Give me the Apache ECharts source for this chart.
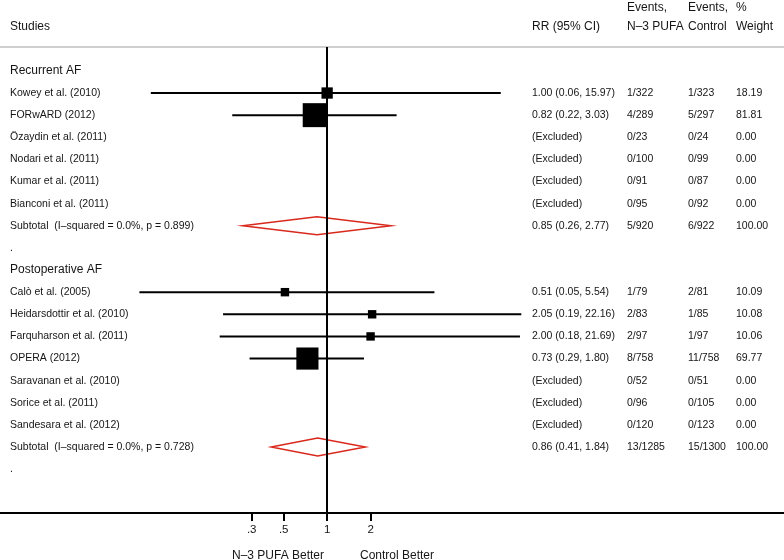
<!DOCTYPE html>
<html>
<head>
<meta charset="utf-8">
<script src="https://cdn.jsdelivr.net/npm/echarts@6/dist/echarts.min.js"></script>
<style>
html, body { margin: 0; padding: 0; background: #fff; }
#chart { width: 784px; height: 560px; }
</style>
</head>
<body>
<div id="chart"></div>
<script>
// rows of the forest plot, top to bottom
var rowLabels = [
    'Recurrent AF',
    'Kowey et al. (2010)',
    'FORwARD (2012)',
    'Özaydin et al. (2011)',
    'Nodari et al. (2011)',
    'Kumar et al. (2011)',
    'Bianconi et al. (2011)',
    'Subtotal  (I\u2013squared = 0.0%, p = 0.899)',
    '.',
    'Postoperative AF',
    'Calò et al. (2005)',
    'Heidarsdottir et al. (2010)',
    'Farquharson et al. (2011)',
    'OPERA (2012)',
    'Saravanan et al. (2010)',
    'Sorice et al. (2011)',
    'Sandesara et al. (2012)',
    'Subtotal  (I\u2013squared = 0.0%, p = 0.728)',
    '.'
];
var rowKinds = ['group', 'study', 'study', 'excl', 'excl', 'excl', 'excl', 'sub', 'blank',
                'group', 'study', 'study', 'study', 'study', 'excl', 'excl', 'excl', 'sub', 'blank'];
var rr     = [null, 1.00, 0.82, null, null, null, null, 0.85, null, null, 0.51, 2.05, 2.00, 0.73, null, null, null, 0.86, null];
var ciLow  = [null, 0.06, 0.22, null, null, null, null, 0.26, null, null, 0.05, 0.19, 0.18, 0.29, null, null, null, 0.41, null];
var ciHigh = [null, 15.97, 3.03, null, null, null, null, 2.77, null, null, 5.54, 22.16, 21.69, 1.80, null, null, null, 1.84, null];
var eventsN3 = ['', '1/322', '4/289', '0/23', '0/100', '0/91', '0/95', '5/920', '',
                '', '1/79', '2/83', '2/97', '8/758', '0/52', '0/96', '0/120', '13/1285', ''];
var eventsControl = ['', '1/323', '5/297', '0/24', '0/99', '0/87', '0/92', '6/922', '',
                     '', '2/81', '1/85', '1/97', '11/758', '0/51', '0/105', '0/123', '15/1300', ''];
var weights = [null, 18.19, 81.81, 0, 0, 0, 0, 100, null, null, 10.09, 10.08, 10.06, 69.77, 0, 0, 0, 100, null];

var tickValues = [0.3, 0.5, 1, 2];
var tickLabels = ['.3', '.5', '1', '2'];

var FONT = '"Liberation Sans", Arial, Helvetica, sans-serif';
var TXT = '#151515';

var ciData = [], boxData = [], diamondData = [], textData = [];
for (var i = 0; i < rowLabels.length; i++) {
    textData.push([0, i]);
    if (rowKinds[i] === 'study') {
        ciData.push([Math.log(ciLow[i]), Math.log(ciHigh[i]), i]);
        boxData.push([Math.log(rr[i]), i, weights[i]]);
    } else if (rowKinds[i] === 'sub') {
        diamondData.push([Math.log(ciLow[i]), Math.log(rr[i]), Math.log(ciHigh[i]), i]);
    }
}

function rrText(i) {
    if (rowKinds[i] === 'excl') return '(Excluded)';
    if (rr[i] == null) return '';
    return rr[i].toFixed(2) + ' (' + ciLow[i].toFixed(2) + ', ' + ciHigh[i].toFixed(2) + ')';
}

function txt(x, y, s, size, align) {
    return {
        type: 'text',
        style: { x: x, y: y, text: s, fontSize: size, fontFamily: FONT, fill: TXT,
                 align: align || 'left', verticalAlign: 'middle' }
    };
}

var myChart = echarts.init(document.getElementById('chart'));

var option = {
    animation: false,
    grid: { left: 0, right: 0, top: 47, bottom: 47 },
    xAxis: [
        {
            type: 'value',
            position: 'bottom',
            min: -5.22,
            max: 7.29,
            axisLine: { onZero: false, lineStyle: { color: '#000', width: 2 } },
            axisTick: { customValues: tickValues.map(Math.log), length: 8,
                        lineStyle: { color: '#000', width: 2 } },
            axisLabel: {
                customValues: tickValues.map(Math.log),
                margin: 11,
                fontSize: 11.5,
                fontFamily: FONT,
                color: TXT,
                formatter: function (v) {
                    var best = 0;
                    for (var k = 0; k < tickValues.length; k++) {
                        if (Math.abs(Math.log(tickValues[k]) - v) < Math.abs(Math.log(tickValues[best]) - v)) best = k;
                    }
                    return tickLabels[best];
                }
            },
            splitLine: { show: false }
        },
        {
            type: 'value',
            position: 'top',
            min: -5.22,
            max: 7.29,
            axisLine: { onZero: false, lineStyle: { color: '#cfcfcf', width: 2 } },
            axisTick: { show: false },
            axisLabel: { show: false },
            splitLine: { show: false }
        }
    ],
    yAxis: {
        type: 'value',
        inverse: true,
        min: -1.08,
        max: 19.98,
        show: false
    },
    graphic: [
        txt(10, 27, 'Studies', 12),
        txt(532, 27, 'RR (95% CI)', 12),
        txt(627, 8, 'Events,', 12),
        txt(627, 27, 'N\u20133 PUFA', 12),
        txt(688, 8, 'Events,', 12),
        txt(688, 27, 'Control', 12),
        txt(736, 8, '%', 12),
        txt(736, 27, 'Weight', 12),
        txt(278, 556, 'N\u20133 PUFA Better', 12, 'center'),
        txt(397, 556, 'Control Better', 12, 'center')
    ],
    series: [
        {
            name: 'text',
            type: 'custom',
            silent: true,
            encode: { x: 0, y: 1 },
            data: textData,
            renderItem: function (params, api) {
                var r = api.value(1);
                var y = api.coord([0, r])[1];
                var kind = rowKinds[r];
                var kids = [txt(10, y, rowLabels[r], kind === 'group' ? 12 : 10.5)];
                if (kind === 'study' || kind === 'excl' || kind === 'sub') {
                    kids.push(txt(532, y, rrText(r), 10.5));
                    kids.push(txt(627, y, eventsN3[r], 10.5));
                    kids.push(txt(688, y, eventsControl[r], 10.5));
                    kids.push(txt(736, y, weights[r].toFixed(2), 10.5));
                }
                return { type: 'group', children: kids };
            }
        },
        {
            name: 'ci',
            type: 'custom',
            silent: true,
            encode: { x: [0, 1], y: 2 },
            data: ciData,
            renderItem: function (params, api) {
                var a = api.coord([api.value(0), api.value(2)]);
                var b = api.coord([api.value(1), api.value(2)]);
                return {
                    type: 'line',
                    shape: { x1: a[0], y1: a[1], x2: b[0], y2: b[1] },
                    style: { stroke: '#000', lineWidth: 2 }
                };
            }
        },
        {
            name: 'subtotal',
            type: 'custom',
            silent: true,
            encode: { x: [0, 1, 2], y: 3 },
            data: diamondData,
            renderItem: function (params, api) {
                var l = api.coord([api.value(0), api.value(3)]);
                var c = api.coord([api.value(1), api.value(3)]);
                var r = api.coord([api.value(2), api.value(3)]);
                var h = 9;
                return {
                    type: 'polygon',
                    shape: { points: [[l[0], l[1]], [c[0], c[1] - h], [r[0], r[1]], [c[0], c[1] + h]] },
                    style: { fill: 'none', stroke: '#d9281c', lineWidth: 1.5 }
                };
            }
        },
        {
            name: 'weight',
            type: 'scatter',
            symbol: 'rect',
            silent: true,
            z: 5,
            symbolSize: function (val) { return 2.65 * Math.sqrt(val[2]); },
            itemStyle: { color: '#000', opacity: 1 },
            data: boxData,
            markLine: {
                silent: true,
                symbol: ['none', 'none'],
                label: { show: false },
                lineStyle: { color: '#000', width: 2, type: 'solid' },
                data: [{ xAxis: 0 }]
            }
        }
    ]
};
myChart.setOption(option);
</script>
</body>
</html>
